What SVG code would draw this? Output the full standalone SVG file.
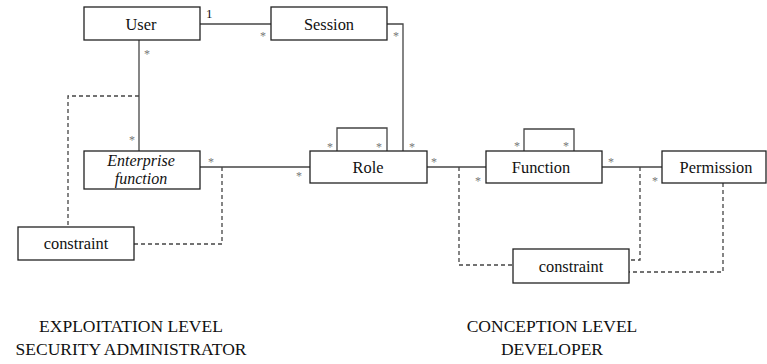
<svg xmlns="http://www.w3.org/2000/svg" width="767" height="364" viewBox="0 0 767 364">
<style>
text{font-family:"Liberation Serif","Times New Roman",serif}
.box{fill:#fff;stroke:#222;stroke-width:1.3}
.lbl{font-size:16.4px;fill:#111;text-anchor:middle}
.it{font-style:italic;font-size:16px}
.m{font-size:12px;fill:#777;text-anchor:middle}
.one{font-size:13px;fill:#111}
.ln{fill:none;stroke:#444;stroke-width:1.3}
.dl{fill:none;stroke:#444;stroke-width:1.3;stroke-dasharray:4,3}
.cap{font-size:17.5px;fill:#111;text-anchor:middle}
</style>
<rect width="767" height="364" fill="#fff"/>
<g id="connectors">
<line class="ln" x1="200" y1="24" x2="271" y2="24"/>
<polyline class="ln" points="387,24 403,24 403,151"/>
<line class="ln" x1="139" y1="40" x2="139" y2="151"/>
<line class="ln" x1="200" y1="167" x2="310" y2="167"/>
<polyline class="ln" points="337,151 337,128 387,128 387,151"/>
<line class="ln" x1="427" y1="167" x2="486" y2="167"/>
<polyline class="ln" points="524,151 524,129 574,129 574,151"/>
<line class="ln" x1="602" y1="167" x2="662" y2="167"/>
<polyline class="dl" points="139,96 68,96 68,227"/>
<polyline class="dl" points="222,167 222,244 134,244"/>
<polyline class="dl" points="459,167 459,265 513,265"/>
<polyline class="dl" points="640,167 640,260 629,260"/>
<polyline class="dl" points="723,183 723,272 629,272"/>
<text class="one" x="206" y="18">1</text>
<text class="m" x="263" y="40">*</text>
<text class="m" x="396" y="40">*</text>
<text class="m" x="147" y="58">*</text>
<text class="m" x="132" y="144">*</text>
<text class="m" x="211" y="166">*</text>
<text class="m" x="299" y="180">*</text>
<text class="m" x="330" y="151">*</text>
<text class="m" x="379" y="151">*</text>
<text class="m" x="412" y="151">*</text>
<text class="m" x="434" y="166">*</text>
<text class="m" x="478" y="185">*</text>
<text class="m" x="517" y="150">*</text>
<text class="m" x="566" y="150">*</text>
<text class="m" x="611" y="166">*</text>
<text class="m" x="655" y="185">*</text>
</g>
<g id="user">
<rect class="box" x="84" y="7" width="116" height="33"/>
<text class="lbl" x="141" y="30">User</text>
</g>
<g id="session">
<rect class="box" x="271" y="7" width="116" height="33"/>
<text class="lbl" x="329" y="30">Session</text>
</g>
<g id="enterprise-function">
<rect class="box" x="84" y="151" width="116" height="38"/>
<text class="lbl it" x="141" y="166">Enterprise</text>
<text class="lbl it" x="141" y="184">function</text>
</g>
<g id="role">
<rect class="box" x="310" y="151" width="117" height="32"/>
<text class="lbl" x="368" y="173">Role</text>
</g>
<g id="function">
<rect class="box" x="486" y="151" width="116" height="32"/>
<text class="lbl" x="541" y="173">Function</text>
</g>
<g id="permission">
<rect class="box" x="662" y="151" width="104" height="32"/>
<text class="lbl" x="716" y="173">Permission</text>
</g>
<g id="constraint1">
<rect class="box" x="18" y="227" width="116" height="33"/>
<text class="lbl" x="76" y="249">constraint</text>
</g>
<g id="constraint2">
<rect class="box" x="513" y="249" width="116" height="34"/>
<text class="lbl" x="571" y="272">constraint</text>
</g>
<g id="captions">
<text class="cap" x="131" y="332">EXPLOITATION LEVEL</text>
<text class="cap" x="131" y="355">SECURITY ADMINISTRATOR</text>
<text class="cap" x="552" y="332">CONCEPTION LEVEL</text>
<text class="cap" x="552" y="355">DEVELOPER</text>
</g>
</svg>
